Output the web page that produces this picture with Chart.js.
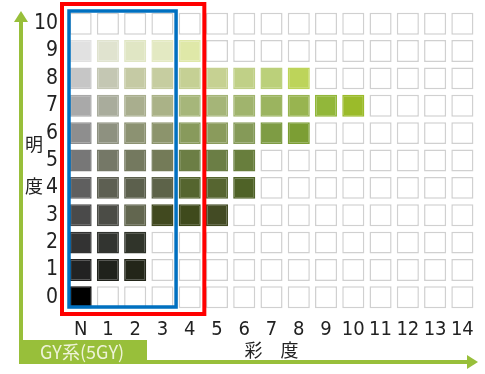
<!DOCTYPE html>
<html>
<head>
<meta charset="utf-8">
<script src="https://cdn.jsdelivr.net/npm/chart.js@4/dist/chart.umd.min.js"></script>
<style>
  html, body { margin: 0; padding: 0; background: #fff; }
  #wrap { width: 485px; height: 374px; }
</style>
</head>
<body>
<div id="wrap"><canvas id="chart"></canvas></div>
<script>
// axis labels
const chromaLabels = ['N', '1', '2', '3', '4', '5', '6', '7', '8', '9', '10', '11', '12', '13', '14'];
const valueLabels = ['0', '1', '2', '3', '4', '5', '6', '7', '8', '9', '10'];

// swatch colours for each value (明度), starting at chroma N; missing = empty cell
const v0 = ['#000000'];
const v1 = ['#222222', '#20221c', '#232619'];
const v2 = ['#333333', '#323430', '#30342a'];
const v3 = ['#4a4a4a', '#4b4c46', '#62664f', '#41491f', '#3f4a1c', '#434b24'];
const v4 = ['#5f5f5f', '#5d5f52', '#5c604d', '#5d6349', '#55652f', '#566530', '#4f6227'];
const v5 = ['#777777', '#757867', '#74795f', '#747b58', '#6c7e45', '#6b7e45', '#687e3d'];
const v6 = ['#8e8e8e', '#8e9180', '#8c9272', '#8c946c', '#889a5c', '#8a9b5c', '#859a58', '#7e9c44', '#7c9e34'];
const v7 = ['#a9a9a9', '#a9ac9c', '#a9ae8e', '#aab287', '#a6b67a', '#a5b578', '#a0b46d', '#9bb45f', '#98b450', '#92b73a', '#9bbb2a'];
const v8 = ['#c6c6c6', '#c4c7b3', '#c5caa4', '#c6cda0', '#c5d094', '#c6d192', '#c0d087', '#bbd07a', '#bdd45a'];
const v9 = ['#e1e1e1', '#e0e3cf', '#e0e6c4', '#e3e9c2', '#dfe8a8'];
const v10 = [];
const rows = [v0, v1, v2, v3, v4, v5, v6, v7, v8, v9, v10];

// highlighted chroma ranges
const redRange = [0, 4];
const blueRange = [0, 3];

const CELL = 0.4; // half height of a swatch in value units
const GREEN = '#98bf3a';
const EMPTY_BORDER = '#d0d0d0';
const numFont = "'DejaVu Sans Condensed', 'Liberation Sans Narrow', 'Noto Sans', sans-serif";
const cjkFont = "'Noto Sans CJK JP', sans-serif";

const datasets = rows.map((row, v) => ({
  label: valueLabels[v],
  data: chromaLabels.map(() => [v - CELL, v + CELL]),
  backgroundColor: chromaLabels.map((_, c) => row[c] || '#ffffff'),
  borderColor: chromaLabels.map((_, c) => row[c] || EMPTY_BORDER),
  borderWidth: 1.5,
  borderSkipped: false,
  grouped: false,
  barPercentage: 0.81,
  categoryPercentage: 1
}));

// red / blue outlines round the selected columns
const outlinePlugin = {
  id: 'outlines',
  afterDatasetsDraw(chart) {
    const { ctx, scales: { x, y } } = chart;
    const pitch = x.getPixelForValue(1) - x.getPixelForValue(0);
    const top = y.getPixelForValue(10.5);
    const bottom = y.getPixelForValue(-0.5);
    ctx.save();
    // red
    ctx.strokeStyle = '#ff0000';
    ctx.lineWidth = 4;
    let l = x.getPixelForValue(redRange[0]) - pitch / 2 - 5;
    let r = x.getPixelForValue(redRange[1]) + pitch / 2 + 1;
    ctx.strokeRect(l, top - 6, r - l, bottom - top + 9);
    // blue
    ctx.strokeStyle = '#0070c0';
    ctx.lineWidth = 3.5;
    l = x.getPixelForValue(blueRange[0]) - pitch / 2 + 2;
    r = x.getPixelForValue(blueRange[1]) + pitch / 2;
    ctx.strokeRect(l, top + 1, r - l, bottom - top - 5);
    ctx.restore();
  }
};

// green arrows, series tag and the vertical 明度 title
const framePlugin = {
  id: 'frame',
  afterDraw(chart) {
    const { ctx } = chart;
    ctx.save();
    ctx.strokeStyle = GREEN;
    ctx.fillStyle = GREEN;
    ctx.lineWidth = 4;
    ctx.beginPath();
    ctx.moveTo(21, 362);
    ctx.lineTo(21, 20);
    ctx.moveTo(19, 362);
    ctx.lineTo(468, 362);
    ctx.stroke();
    // arrow heads
    ctx.beginPath();
    ctx.moveTo(21, 11); ctx.lineTo(28, 22); ctx.lineTo(14, 22); ctx.closePath();
    ctx.fill();
    ctx.beginPath();
    ctx.moveTo(478, 362); ctx.lineTo(467, 355); ctx.lineTo(467, 369); ctx.closePath();
    ctx.fill();
    // series tag
    ctx.fillRect(19, 340, 128, 23);
    ctx.fillStyle = '#eef3d8';
    ctx.font = '18px ' + cjkFont;
    ctx.textAlign = 'center';
    ctx.textBaseline = 'middle';
    ctx.fillText('GY系(5GY)', 82, 352);
    // y title
    ctx.fillStyle = '#222222';
    ctx.font = '18px ' + cjkFont;
    ctx.fillText('明', 34, 144);
    ctx.fillText('度', 34, 186);
    ctx.restore();
  }
};

new Chart(document.getElementById('chart'), {
  type: 'bar',
  data: { labels: chromaLabels, datasets },
  options: {
    responsive: true,
    maintainAspectRatio: false,
    animation: false,
    layout: { padding: { left: 0, top: 10, right: 9, bottom: 0 } },
    plugins: {
      legend: { display: false },
      tooltip: { enabled: false }
    },
    scales: {
      x: {
        grid: { display: false },
        border: { display: false },
        ticks: { color: '#222', font: { family: numFont, size: 20 }, padding: -1, maxRotation: 0 },
        title: {
          display: true,
          text: '彩　度',
          color: '#222',
          font: { family: cjkFont, size: 18 },
          padding: { top: 0, bottom: 13 }
        },
        afterFit(scale) {
          scale.height = 63;
          scale.paddingLeft = 0;
          scale.paddingRight = 0;
        }
      },
      y: {
        min: -0.5,
        max: 10.5,
        grid: { display: false },
        border: { display: false },
        afterBuildTicks(scale) { scale.ticks = valueLabels.map((_, i) => ({ value: i })); },
        ticks: {
          color: '#222',
          font: { family: numFont, size: 21 },
          padding: 1,
          callback: (val) => valueLabels[val]
        },
        afterFit(scale) {
          scale.width = 67;
          scale.paddingTop = 0;
          scale.paddingBottom = 0;
        }
      }
    }
  },
  plugins: [outlinePlugin, framePlugin]
});
</script>
</body>
</html>
